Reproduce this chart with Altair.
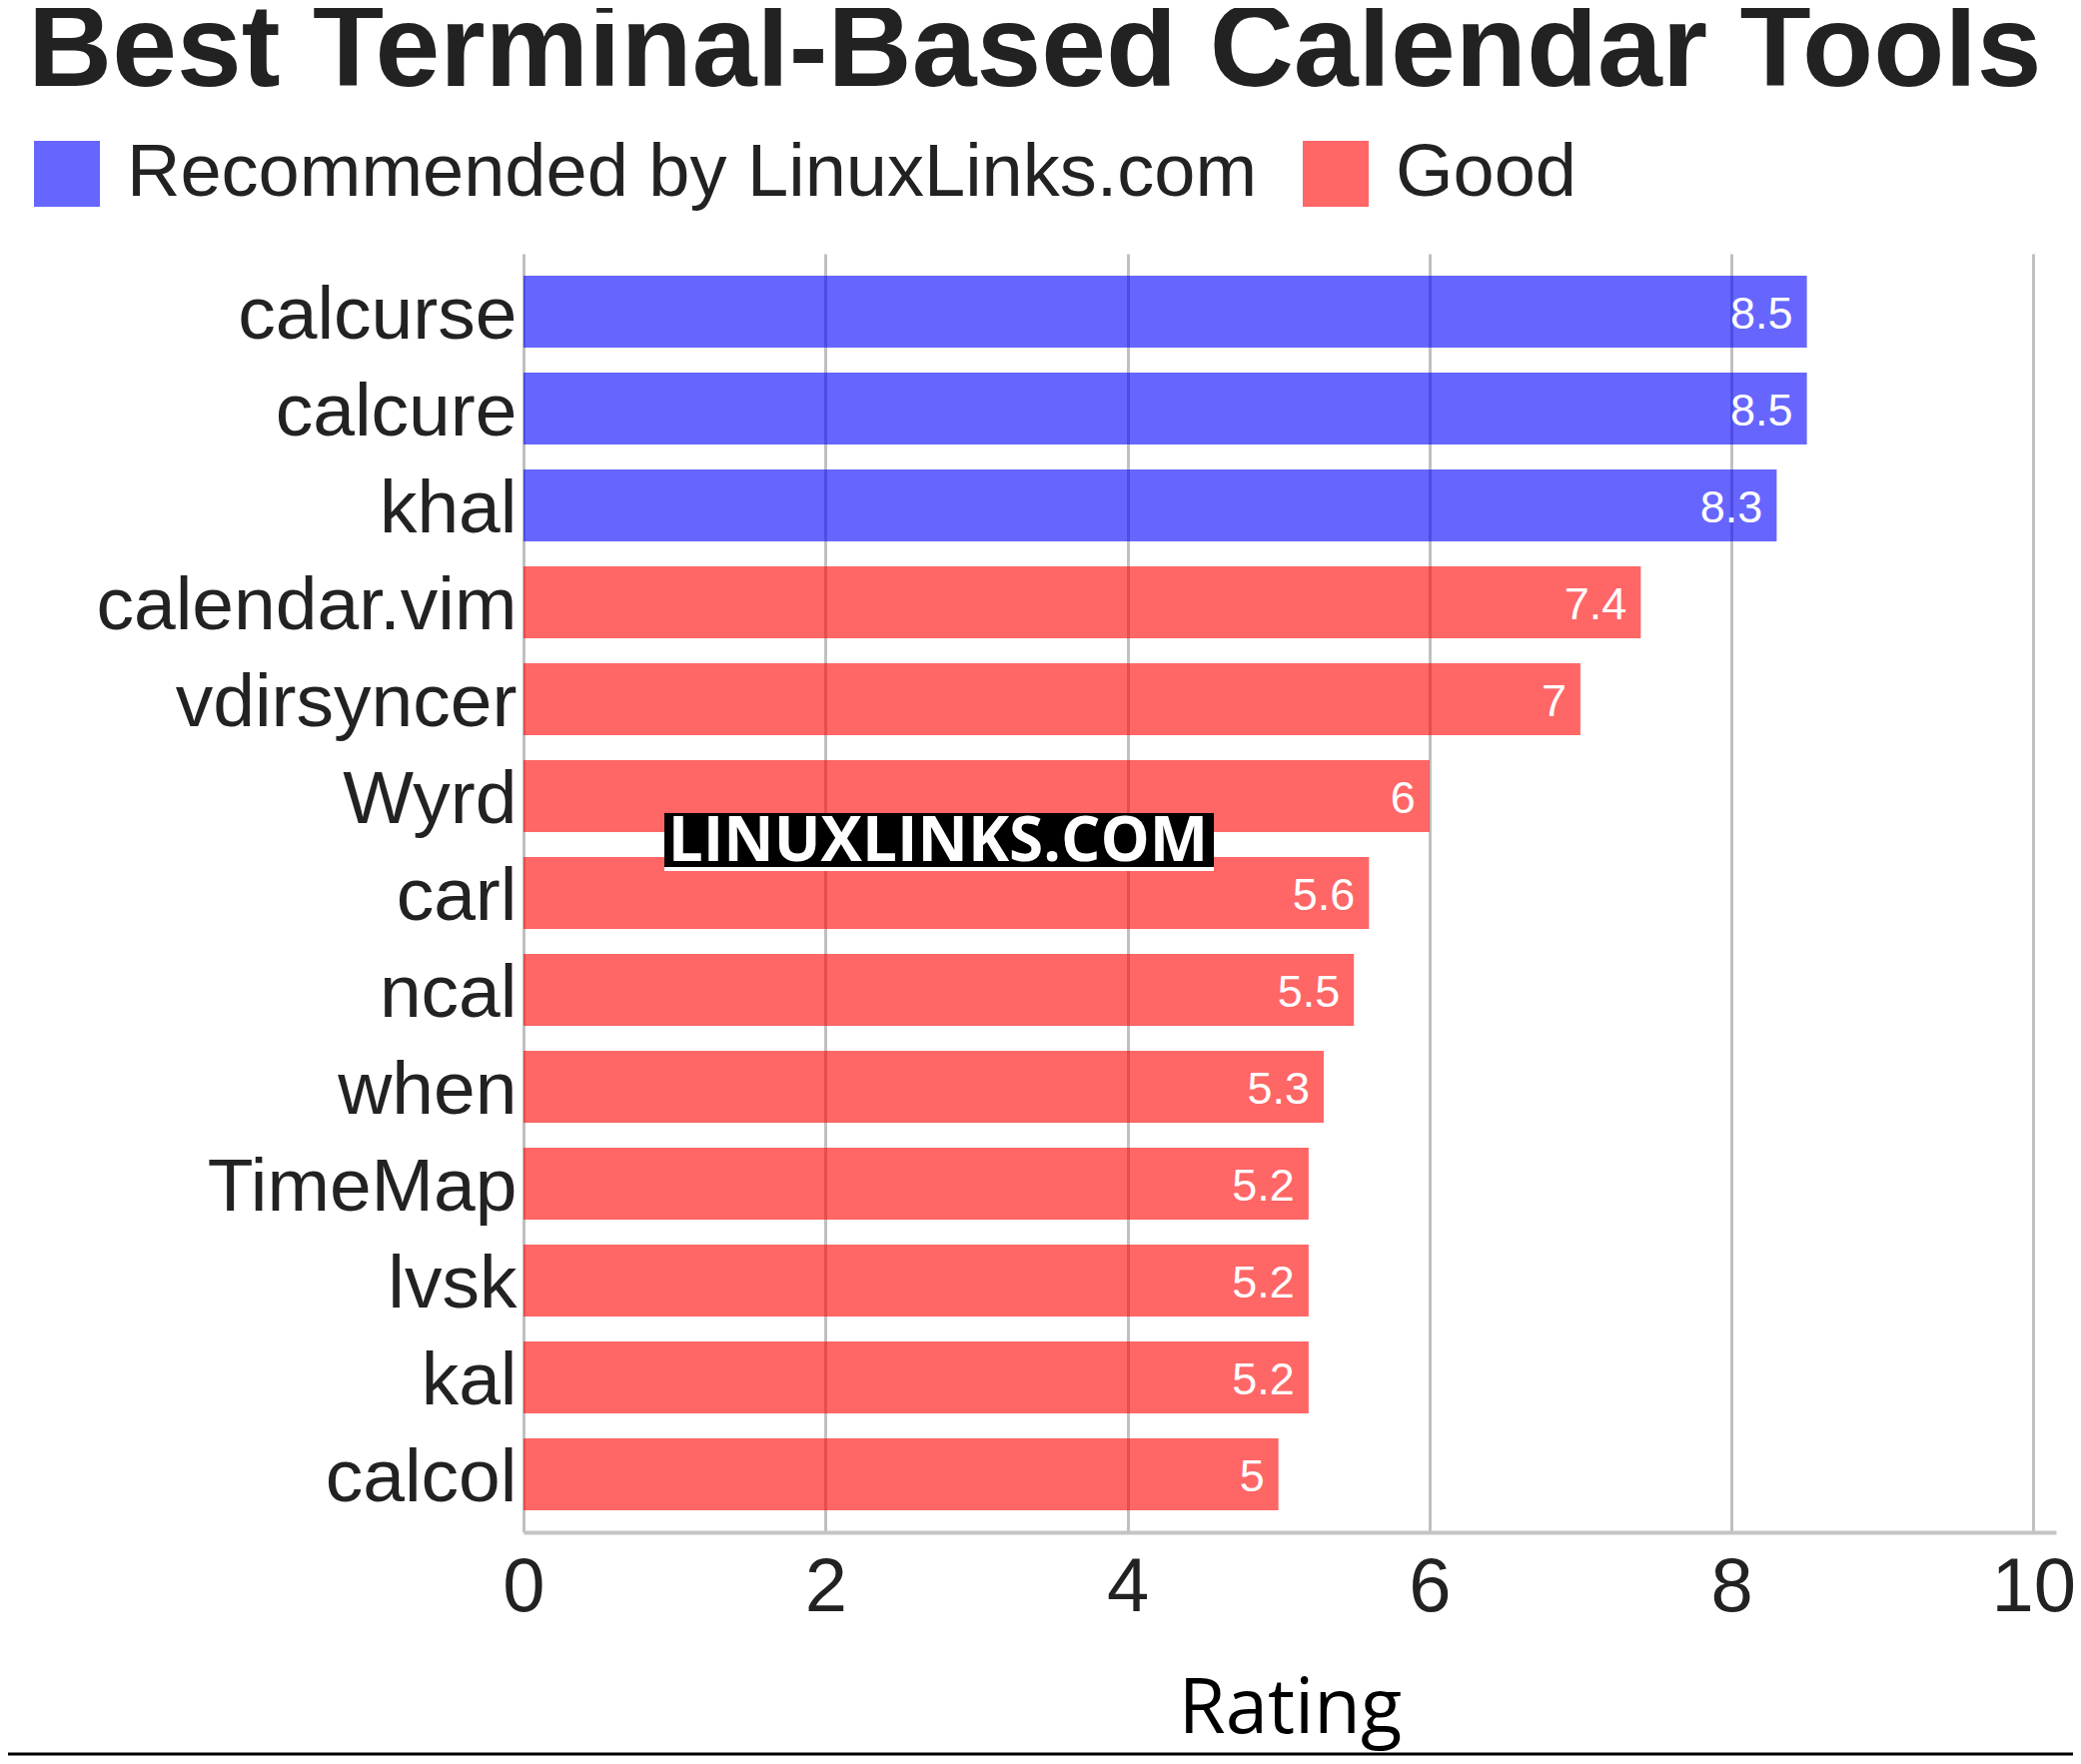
import altair as alt
import pandas as pd

tools = ["calcurse", "calcure", "khal", "calendar.vim", "vdirsyncer", "Wyrd", "carl",
         "ncal", "when", "TimeMap", "lvsk", "kal", "calcol"]
ratings = [8.5, 8.5, 8.3, 7.4, 7, 6, 5.6, 5.5, 5.3, 5.2, 5.2, 5.2, 5]
groups = ["Recommended by LinuxLinks.com"] * 3 + ["Good"] * 10
group_order = ["Recommended by LinuxLinks.com", "Good"]
group_colors = ["#0000ff", "#ff0000"]
x_ticks = [0, 2, 4, 6, 8, 10]
x_max = 10.15
title_text = ["Best Terminal-Based Calendar Tools"]
x_title = "Rating"
watermark = ["LINUXLINKS.COM"]

df = pd.DataFrame({"Tool": tools, "Rating": ratings, "Group": groups})
wm_df = pd.DataFrame({"label": watermark})
title_df = pd.DataFrame({"label": title_text})

W, H = 1534, 1280
PAD_L = 516
base = alt.Chart(df)

bars = base.mark_bar(opacity=0.6).encode(
    x=alt.X(
        "Rating:Q",
        scale=alt.Scale(domain=[0, x_max], nice=False, zero=True),
        axis=alt.Axis(
            values=x_ticks, format="~g", title=x_title, grid=True, gridColor="#c0c0c0",
            gridWidth=3, domainColor="#c4c4c4", domainWidth=4, ticks=False, tickSize=0,
            labelFont="Liberation Sans", labelFontSize=76, labelColor="#222222",
            labelBaseline="alphabetic", labelPadding=78, labelFlush=False,
            titleFont="Open Sans", titleFontSize=76, titleFontWeight="normal",
            titleColor="#000000", titleBaseline="alphabetic", titleY=200,
        ),
    ),
    y=alt.Y(
        "Tool:N", sort=tools,
        scale=alt.Scale(paddingInner=0.2577, paddingOuter=0.2268),
        axis=alt.Axis(
            title=None, domain=False, ticks=False, tickSize=0, grid=False,
            labelFont="Liberation Sans", labelFontSize=75, labelColor="#222222",
            labelBaseline="alphabetic", labelOffset=27, labelPadding=7, labelLimit=1000,
        ),
    ),
    color=alt.Color(
        "Group:N",
        scale=alt.Scale(domain=group_order, range=group_colors),
        legend=alt.Legend(
            title=None, orient="none", legendX=-494, legendY=-117, direction="horizontal",
            symbolType="square", symbolSize=4356, symbolStrokeWidth=0, symbolOpacity=0.6,
            labelFont="Liberation Sans", labelFontSize=74, labelColor="#222222",
            labelOffset=23, columnPadding=41, labelLimit=2000,
        ),
    ),
)

values = base.mark_text(
    align="right", baseline="middle", dx=-14, dy=3,
    font="Liberation Sans", fontSize=45, color="white",
).encode(
    x="Rating:Q",
    y=alt.Y("Tool:N", sort=tools),
    text="Rating:Q",
)

wm = alt.Chart(wm_df)
wm_under = wm.mark_rect(color="white").encode(
    x=alt.value(141), x2=alt.value(691), y=alt.value(560), y2=alt.value(618))
wm_box = wm.mark_rect(color="black").encode(
    x=alt.value(141), x2=alt.value(691), y=alt.value(560), y2=alt.value(614))
wm_text = wm.mark_text(
    font="Open Sans", fontWeight="bold", fontSize=62, color="white",
    align="center", baseline="alphabetic",
).encode(x=alt.value(415), y=alt.value(608), text="label:N")

bottom_line = wm.mark_rule(color="black", strokeWidth=3).encode(
    x=alt.value(-PAD_L), x2=alt.value(1551), y=alt.value(1502))

title_mark = alt.Chart(title_df).mark_text(
    font="Liberation Sans", fontWeight="bold", fontSize=116.5, color="#222222",
    align="left", baseline="alphabetic",
).encode(x=alt.value(-496), y=alt.value(-168), text="label:N")

chart = alt.layer(bars, values, wm_under, wm_box, wm_text, bottom_line, title_mark).properties(
    width=W, height=H,
    autosize=alt.AutoSizeParams(type="none"),
    padding={"left": PAD_L, "top": 246, "right": 17, "bottom": 224},
    background="white",
).configure_view(stroke=None)

chart.save("out.html", embed_options={"renderer": "svg", "actions": False})
